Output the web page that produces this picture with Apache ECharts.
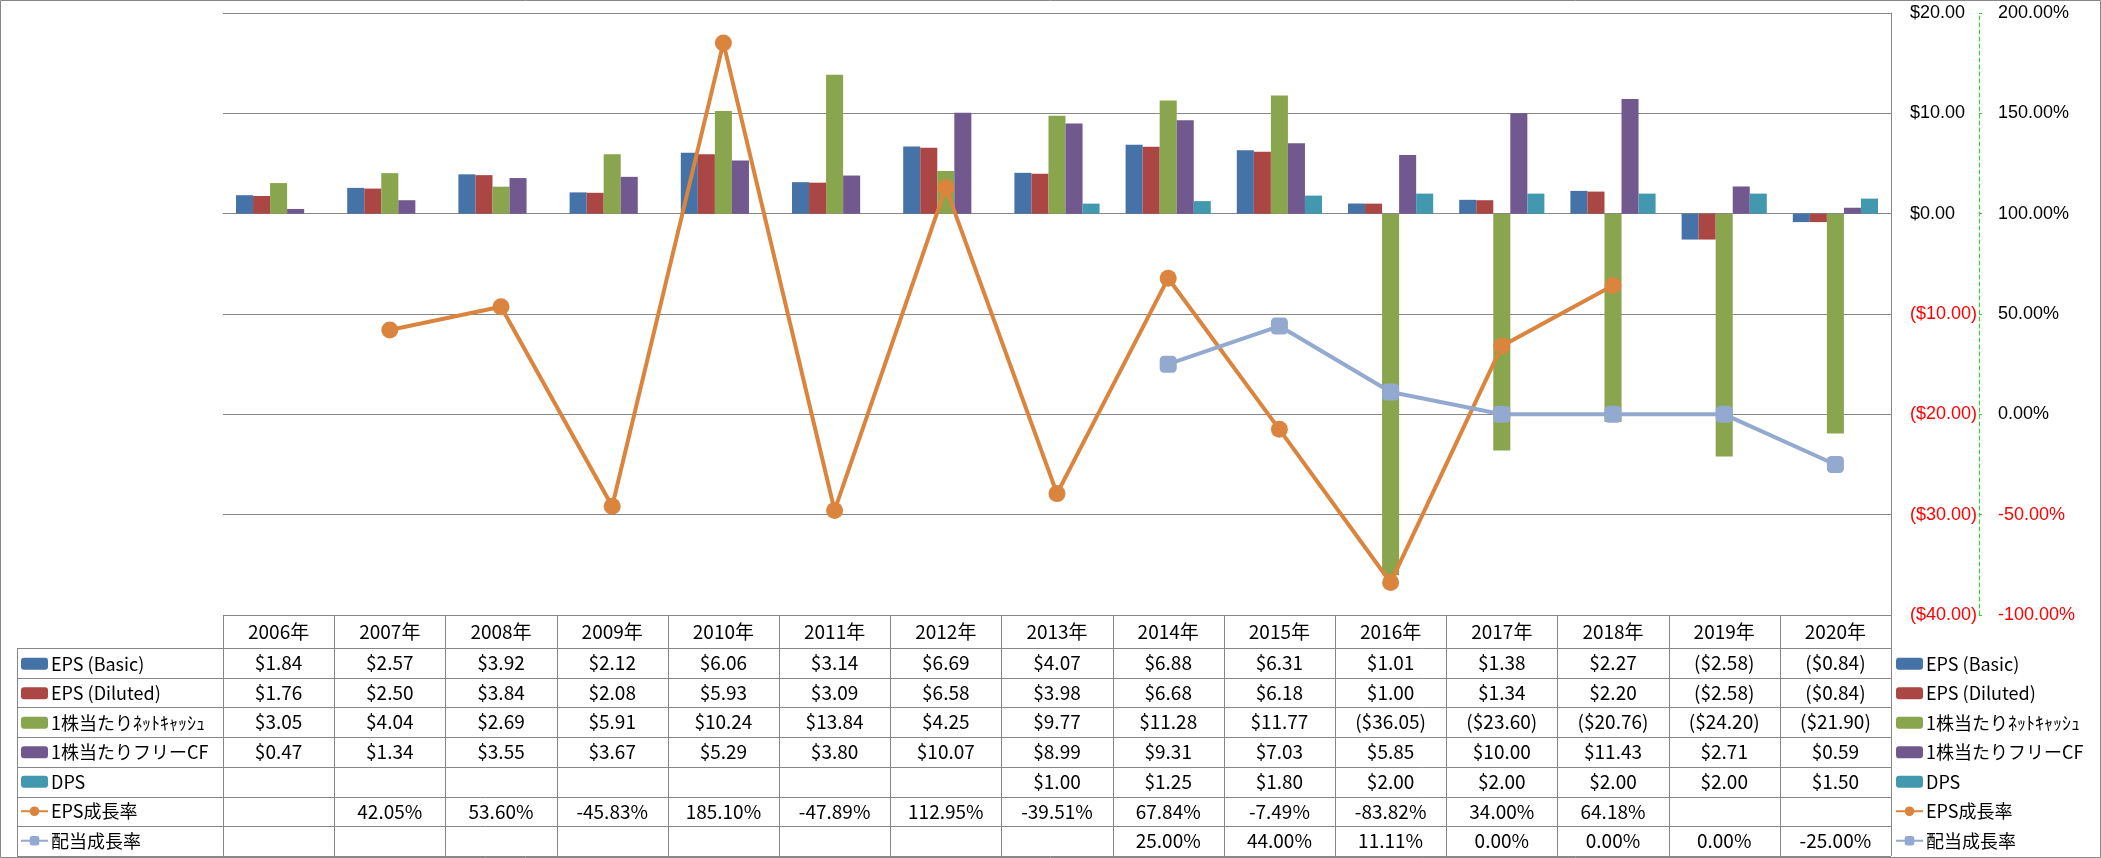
<!DOCTYPE html>
<html><head><meta charset="utf-8">
<script src="https://cdn.jsdelivr.net/npm/echarts@6/dist/echarts.min.js"></script>
<style>html,body{margin:0;padding:0;background:#fff}#c{width:2101px;height:858px}</style>
</head><body><div id="c"></div>
<script>
const categories = ['2006年','2007年','2008年','2009年','2010年','2011年','2012年','2013年','2014年','2015年','2016年','2017年','2018年','2019年','2020年'];
const epsBasic   = [1.84,2.57,3.92,2.12,6.06,3.14,6.69,4.07,6.88,6.31,1.01,1.38,2.27,-2.58,-0.84];
const epsDiluted = [1.76,2.50,3.84,2.08,5.93,3.09,6.58,3.98,6.68,6.18,1.00,1.34,2.20,-2.58,-0.84];
const netCash    = [3.05,4.04,2.69,5.91,10.24,13.84,4.25,9.77,11.28,11.77,-36.05,-23.60,-20.76,-24.20,-21.90];
const freeCF     = [0.47,1.34,3.55,3.67,5.29,3.80,10.07,8.99,9.31,7.03,5.85,10.00,11.43,2.71,0.59];
const dps        = [null,null,null,null,null,null,null,1.00,1.25,1.80,2.00,2.00,2.00,2.00,1.50];
const epsGrowth  = [null,42.05,53.60,-45.83,185.10,-47.89,112.95,-39.51,67.84,-7.49,-83.82,34.00,64.18,null,null];
const divGrowth  = [null,null,null,null,null,null,null,null,25.00,44.00,11.11,0.00,0.00,0.00,-25.00];
const seriesNames = ['EPS (Basic)','EPS (Diluted)','1株当たりﾈｯﾄｷｬｯｼｭ','1株当たりフリーCF','DPS','EPS成長率','配当成長率'];
const moneyAxis = {min:-40, max:20, interval:10};
const pctAxis = {min:-100, max:200, interval:50};

const colors = ['#4572A7','#AA4643','#89A54E','#71588F','#4198AF','#DB843D','#93A9CF'];
const GRAY = '#878787';
const FONT = "'Noto Sans CJK JP', 'Liberation Sans', sans-serif";
const AXFONT = "'Liberation Sans', sans-serif";

function money(v){ if (v===null||v===undefined) return ''; return v<0 ? '($'+(-v).toFixed(2)+')' : '$'+v.toFixed(2); }
function pct(v){ if (v===null||v===undefined) return ''; return v.toFixed(2)+'%'; }

const barData = [epsBasic, epsDiluted, netCash, freeCF, dps];
const lineData = [epsGrowth, divGrowth];

const chart = echarts.init(document.getElementById('c'), null, {renderer:'canvas'});

const ROWH = 29.7, HEADH = 33;
const legendCommon = {
  orient:'vertical', top:649, itemGap:0, itemWidth:27, itemHeight:12, padding:0,
  selectedMode:false,
  textStyle:{fontFamily:FONT, fontSize:18, color:'#000', lineHeight:29.5, padding:[0,0,0,-2]},
  data: seriesNames
};

const series = [];
barData.forEach((d,i)=>{
  series.push({name:seriesNames[i], type:'bar', data:d, yAxisIndex:0,
    barGap:'0%', barCategoryGap:'23.4%', itemStyle:{color:colors[i]}, z:2});
});
lineData.forEach((d,j)=>{
  const i = 5+j;
  series.push({name:seriesNames[i], type:'line', data:d, yAxisIndex:1, z:5,
    symbol: j===0 ? 'circle' : 'roundRect', symbolSize:17, connectNulls:false,
    lineStyle:{color:colors[i], width:4}, itemStyle:{color:colors[i]}});
});

const option = {
  animation:false,
  backgroundColor:'#fff',
  grid:{left:223, right:210, top:13, bottom:243, containLabel:false},
  legend:[
    Object.assign({}, legendCommon, {left:20}),
    Object.assign({}, legendCommon, {left:1895})
  ],
  xAxis:{type:'category', data:categories, axisLabel:{show:false}, axisTick:{show:false},
    axisLine:{show:true, onZero:true, lineStyle:{color:GRAY, width:1}}},
  yAxis:[
    {type:'value', position:'right', min:moneyAxis.min, max:moneyAxis.max, interval:moneyAxis.interval,
     axisLine:{show:true, lineStyle:{color:GRAY}}, axisTick:{show:false},
     splitLine:{show:true, lineStyle:{color:GRAY, width:1}},
     axisLabel:{margin:19, fontFamily:AXFONT, fontSize:18, formatter:money,
       color:function(v){ return Number(v)<0 ? '#FF0000' : '#000'; }}},
    {type:'value', position:'right', offset:88, min:pctAxis.min, max:pctAxis.max, interval:pctAxis.interval,
     axisLine:{show:true, lineStyle:{color:'#22DD22', type:[4,3], width:1}},
     axisTick:{show:true, length:3, inside:false, lineStyle:{color:'#22DD22'}},
     splitLine:{show:false},
     axisLabel:{margin:19, fontFamily:AXFONT, fontSize:18, formatter:pct,
       color:function(v){ return Number(v)<0 ? '#FF0000' : '#000'; }}}
  ],
  series:series
};
chart.setOption(option);

// Data table under the plot, aligned with the category axis
const xs = categories.map((_,i)=>chart.convertToPixel({xAxisIndex:0}, i));
const band = xs[1]-xs[0];
const G = xs[0]-band/2, R = xs[xs.length-1]+band/2;
const T = chart.convertToPixel({yAxisIndex:0}, moneyAxis.min);
const L = 17;
const rowsTop = T + HEADH;
const B = rowsTop + ROWH*7;
const g = [];
const ln = (x1,y1,x2,y2)=>g.push({type:'line', silent:true, z:10, shape:{x1:x1,y1:y1,x2:x2,y2:y2}, style:{stroke:GRAY, lineWidth:1}});
const px = v=>Math.round(v)+0.5;
ln(G, px(T), R, px(T));
for (let k=0;k<=7;k++){ const y = px(rowsTop+k*ROWH); ln(L, y, R, y); }
ln(px(L), rowsTop, px(L), B);
ln(px(G), T, px(G), B);
xs.forEach(c=>{ const x = px(c+band/2); ln(x, T, x, B); });
const txt = (x,y,s)=>g.push({type:'text', silent:true, z:11, x:x, y:y,
  style:{text:s, fill:'#000', font:"19px "+FONT, align:'center', verticalAlign:'middle'}});
categories.forEach((c,i)=>txt(xs[i], T+HEADH/2, c));
const tableRows = [epsBasic, epsDiluted, netCash, freeCF, dps, epsGrowth, divGrowth];
tableRows.forEach((arr,r)=>{
  arr.forEach((v,i)=>{ const s = r<5 ? money(v) : pct(v); if (s) txt(xs[i], rowsTop+r*ROWH+ROWH/2, s); });
});
g.push({type:'rect', silent:true, z:20, shape:{x:0.5,y:0.5,width:2100,height:857}, style:{fill:null, stroke:GRAY, lineWidth:1}});
chart.setOption({graphic:g});
</script>
</body></html>
